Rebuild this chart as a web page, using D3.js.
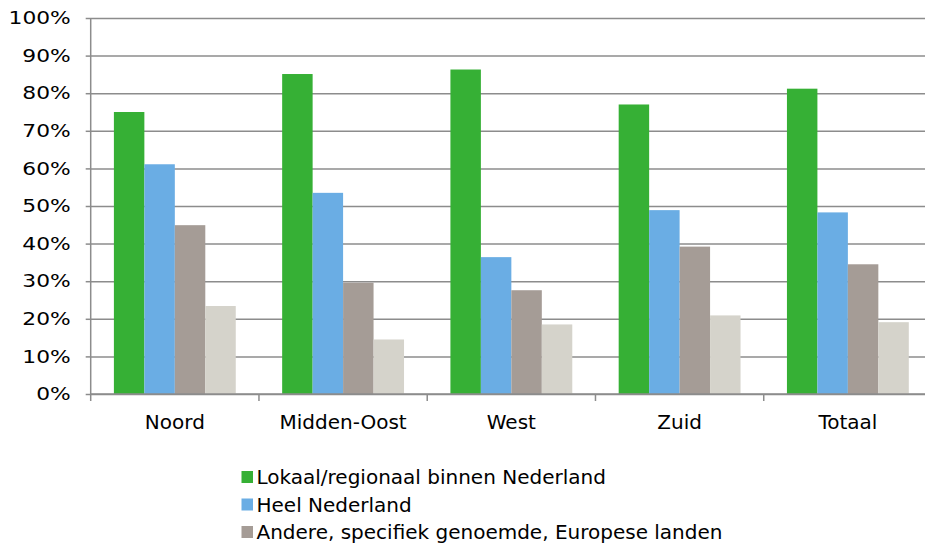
<!DOCTYPE html>
<html><head><meta charset="utf-8">
<script src="https://cdn.jsdelivr.net/npm/d3@7"></script>
<style>
html,body{margin:0;padding:0;background:#fff;overflow:hidden;}
svg{display:block;font-family:"DejaVu Sans",Verdana,sans-serif;}
</style></head>
<body><svg id="chart" width="925" height="543"></svg>
<script>
const categories = ["Noord","Midden-Oost","West","Zuid","Totaal"];
const seriesNames = ["Lokaal/regionaal binnen Nederland","Heel Nederland","Andere, specifiek genoemde, Europese landen","Overige landen"];
const lokaal   = [75.0, 85.1, 86.3, 77.0, 81.2];
const heelNL   = [61.1, 53.5, 36.4, 48.9, 48.3];
const europa   = [44.9, 29.6, 27.6, 39.2, 34.5];
const overig   = [23.4, 14.5, 18.5, 20.9, 19.1];
const yTicks = [0,10,20,30,40,50,60,70,80,90,100];
const colors = ["#36b035","#6aade4","#a59c96","#d5d3cb"];
const legendCount = 3;

(function(){
const series = [lokaal, heelNL, europa, overig];
const svg = d3.select("#chart");
const pL = 90.7, pR = 932, pT = 18, pB = 394;

const x0 = d3.scaleBand().domain(categories).range([pL, pR]);
const groupPad = 23.2;
const x1 = d3.scaleBand().domain(d3.range(series.length)).range([groupPad, x0.bandwidth()-groupPad]);
const y = d3.scaleLinear().domain([0,100]).range([pB, pT]);

// gridlines
svg.append("g").attr("transform",`translate(${pL},0)`)
  .call(d3.axisLeft(y).tickValues(yTicks).tickSize(-(pR-pL)).tickFormat(""))
  .call(g=>g.select(".domain").remove())
  .call(g=>g.selectAll("line").attr("stroke","#8c8c8c").attr("stroke-width",1.5));

// bars
const groups = svg.append("g").selectAll("g").data(categories).join("g")
  .attr("transform",d=>`translate(${x0(d)},0)`);
groups.selectAll("rect").data((d,i)=>series.map((s,j)=>({j, v:s[i]}))).join("rect")
  .attr("x",d=>x1(d.j)).attr("width",x1.bandwidth())
  .attr("y",d=>y(d.v)).attr("height",d=>pB-y(d.v))
  .attr("fill",d=>colors[d.j]);

// y axis
const sx = 1.245;
svg.append("g").attr("transform",`translate(${pL},0)`)
  .call(d3.axisLeft(y).tickValues(yTicks).tickSize(5).tickPadding(11).tickFormat(d=>d+"%"))
  .call(g=>g.select(".domain").attr("stroke","#8c8c8c").attr("stroke-width",1.5).attr("d",`M0,${pT}V${pB+7}`))
  .call(g=>g.selectAll("line").attr("stroke","#8c8c8c").attr("stroke-width",1.5))
  .call(g=>g.selectAll("text").attr("fill","#000").style("font-size","17.5px")
    .style("font-family","DejaVu Sans, Verdana, sans-serif")
    .attr("transform",`scale(${sx},1)`));

// x axis
const xAxisG = svg.append("g").attr("transform",`translate(0,${pB})`);
xAxisG.append("line").attr("x1",pL).attr("x2",pR).attr("stroke","#8c8c8c").attr("stroke-width",1.5);
xAxisG.selectAll("line.tk").data(categories.slice(1)).join("line").attr("class","tk")
  .attr("x1",d=>x0(d)).attr("x2",d=>x0(d)).attr("y1",0).attr("y2",7)
  .attr("stroke","#8c8c8c").attr("stroke-width",1.5);
xAxisG.selectAll("text").data(categories).join("text")
  .attr("x",d=>x0(d)+x0.bandwidth()/2).attr("y",35)
  .attr("text-anchor","middle").style("font-size","20px").attr("fill","#000").text(d=>d);

// legend
const lg = svg.append("g").attr("transform","translate(241.5,0)");
const items = lg.selectAll("g").data(seriesNames.slice(0,legendCount)).join("g")
  .attr("transform",(d,i)=>`translate(0,${477+i*27.5})`);
items.append("rect").attr("x",0).attr("y",-6).attr("width",11.5).attr("height",12).attr("fill",(d,i)=>colors[i]);
items.append("text").attr("x",15).attr("y",7).style("font-size","20px").attr("fill","#000").text(d=>d);
})();
</script></body></html>
